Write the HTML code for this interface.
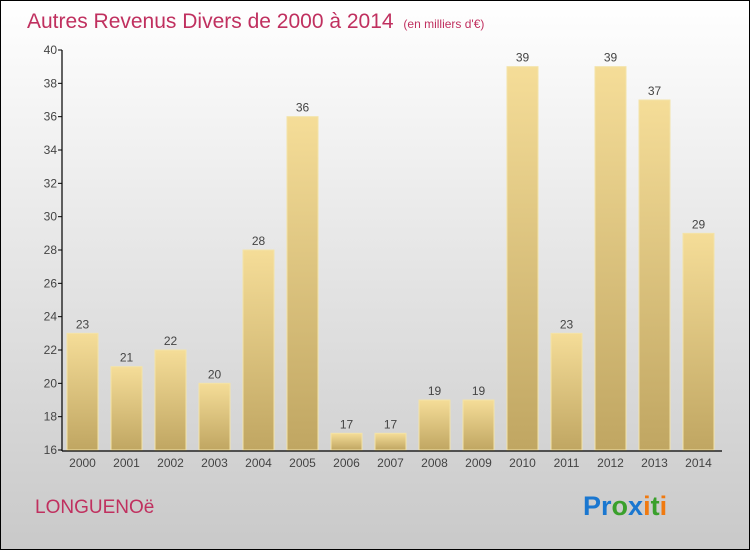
<!DOCTYPE html>
<html><head><meta charset="utf-8"><style>
body{margin:0}
#c{position:relative;width:748px;height:548px;border:1px solid #000;background:linear-gradient(#fff,#c9c9c9);font-family:"Liberation Sans",sans-serif;overflow:hidden}
</style></head><body>
<div id="c">
<svg width="748" height="548" style="position:absolute;left:0;top:0" id="s">
<defs><linearGradient id="g" x1="0" y1="0" x2="0" y2="1"><stop offset="0" stop-color="#f5dd98"/><stop offset="1" stop-color="#c0a662"/></linearGradient></defs>
<text x="26" y="27" font-size="21" fill="#c0305f">Autres Revenus Divers de 2000 à 2014 <tspan font-size="12" dx="4">(en milliers d'€)</tspan></text>
<text x="34" y="512" font-size="19" fill="#c0305f">LONGUENOë</text>
<text x="582" y="514" font-size="27" font-weight="bold"><tspan fill="#1a77d0">Pr</tspan><tspan fill="#3aa02c">o</tspan><tspan fill="#1a77d0">x</tspan><tspan fill="#f07a10">i</tspan><tspan fill="#3aa02c">t</tspan><tspan fill="#f07a10">i</tspan></text>
<g id="plot"></g>
</svg>
</div>
<script>
const years=["2000","2001","2002","2003","2004","2005","2006","2007","2008","2009","2010","2011","2012","2013","2014"];
const values=[23,21,22,20,28,36,17,17,19,19,39,23,39,37,29];
const yTicks=[16,18,20,22,24,26,28,30,32,34,36,38,40];
const NS="http://www.w3.org/2000/svg";
const g=document.getElementById('plot');
const y=v=>449-(v-16)*(400/24);
const x=i=>66+i*44;
function mk(t,a,txt){const e=document.createElementNS(NS,t);for(const k in a)e.setAttribute(k,a[k]);if(txt!=null)e.textContent=txt;g.appendChild(e);return e;}
values.forEach((v,i)=>{
 const r=mk('rect',{x:x(i),y:y(v),width:31,height:449-y(v),fill:'url(#g)',stroke:'#f3e3a8','stroke-width':1});
 
 
 const t=mk('text',{x:x(i)+15.5,y:y(v)-5,'font-size':12,fill:'#444','text-anchor':'middle'},String(v));
 
 
 const xl=mk('text',{x:x(i)+15.5,y:466,'font-size':12,fill:'#444','text-anchor':'middle'},years[i]);
 
 
});
yTicks.forEach(v=>{
 const l=mk('line',{x1:57,x2:61,y1:y(v),y2:y(v),stroke:'#000'});
 
 
 const t=mk('text',{x:56,y:y(v)+4,'font-size':12,fill:'#444','text-anchor':'end'},String(v));
 
 
});
const ya=mk('line',{x1:61,x2:61,y1:49,y2:450,stroke:'#000','stroke-width':1.2});


const xa=mk('line',{x1:61,x2:721,y1:450,y2:450,stroke:'#000','stroke-width':1.2});


</script>
</body></html>
